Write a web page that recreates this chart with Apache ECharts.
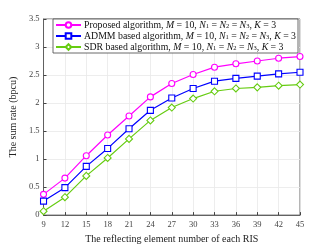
<!DOCTYPE html>
<html><head><meta charset="utf-8">
<script src="https://cdn.jsdelivr.net/npm/echarts@6/dist/echarts.min.js"></script>
<style>html,body{margin:0;padding:0;background:#fff}#c{width:332px;height:249px}</style>
</head><body><div id="c"></div>
<script>
const xValues = [9, 12, 15, 18, 21, 24, 27, 30, 33, 36, 39, 42, 45];
const proposed = [0.37, 0.66, 1.06, 1.43, 1.77, 2.11, 2.35, 2.51, 2.64, 2.70, 2.75, 2.80, 2.83];
const admm = [0.25, 0.49, 0.87, 1.19, 1.54, 1.87, 2.09, 2.26, 2.39, 2.44, 2.48, 2.52, 2.55];
const sdr = [0.07, 0.32, 0.70, 1.02, 1.36, 1.69, 1.92, 2.08, 2.21, 2.26, 2.28, 2.31, 2.33];
const seriesNames = ['Proposed algorithm', 'ADMM based algorithm', 'SDR based algorithm'];

const serif = 'Liberation Serif, Times New Roman, serif';
const chart = echarts.init(document.getElementById('c'));
function mk(name, data, color, symbol) {
  return {
    name: name, type: 'line', data: xValues.map((x, i) => [x, data[i]]),
    symbol: symbol, symbolSize: symbol === 'diamond' ? 7 : 6,
    lineStyle: { color: color, width: 1.2 },
    itemStyle: { color: '#fff', borderColor: color, borderWidth: 1.1 },
    emphasis: { disabled: true }, animation: false
  };
}
const fs = 9.8;
chart.setOption({
  animation: false,
  grid: { left: 43, right: 32, top: 19, bottom: 28, show: true, borderColor: '#444', borderWidth: 0.8, backgroundColor: '#fff' },
  legend: {
    orient: 'vertical', left: 53, top: 19, itemWidth: 25, itemHeight: 7, itemGap: 1,
    padding: [1, 2, 1, 2], borderColor: '#444', borderWidth: 0.8, backgroundColor: '#fff',
    data: seriesNames,
    formatter: function (n) { return '{r|' + n + ', }{i|M}{r| = 10, }{i|N}{s|1}{r| = }{i|N}{s|2}{r| = }{i|N}{s|3}{r|, }{i|K}{r| = 3}'; },
    textStyle: {
      fontFamily: serif, fontSize: fs, color: '#111', padding: [0, 0, 0, -2], lineHeight: 10,
      rich: {
        r: { fontFamily: serif, fontSize: fs, color: '#111', lineHeight: 10 },
        i: { fontFamily: serif, fontSize: fs, fontStyle: 'italic', color: '#111', lineHeight: 10 },
        s: { fontFamily: serif, fontSize: 6.5, color: '#111', lineHeight: 10, padding: [3, 0, 0, 0] }
      }
    }
  },
  xAxis: {
    type: 'value', min: 9, max: 45, interval: 3,
    name: 'The reflecting element number of each RIS', nameLocation: 'middle', nameGap: 15,
    nameTextStyle: { fontFamily: serif, fontSize: 10, color: '#222' },
    axisLine: { show: true, lineStyle: { color: '#444', width: 0.8 } },
    axisTick: { show: true, inside: true, length: 3, lineStyle: { color: '#444' } },
    axisLabel: { fontFamily: serif, fontSize: 8.5, color: '#444', margin: 5 },
    splitLine: { show: true, lineStyle: { color: '#e8e8e8', width: 0.8 } }
  },
  yAxis: {
    type: 'value', min: 0, max: 3.5, interval: 0.5,
    name: 'The sum rate (bpcu)', nameLocation: 'middle', nameGap: 14,
    nameTextStyle: { fontFamily: serif, fontSize: 10, color: '#222' },
    axisLine: { show: true, lineStyle: { color: '#444', width: 0.8 } },
    axisTick: { show: true, inside: true, length: 3, lineStyle: { color: '#444' } },
    axisLabel: { fontFamily: serif, fontSize: 8.5, color: '#444', margin: 4 },
    splitLine: { show: true, lineStyle: { color: '#e8e8e8', width: 0.8 } }
  },
  series: [
    mk(seriesNames[0], proposed, '#ff00ff', 'circle'),
    mk(seriesNames[1], admm, '#0000ff', 'rect'),
    mk(seriesNames[2], sdr, '#66cc11', 'diamond')
  ]
});
</script></body></html>
